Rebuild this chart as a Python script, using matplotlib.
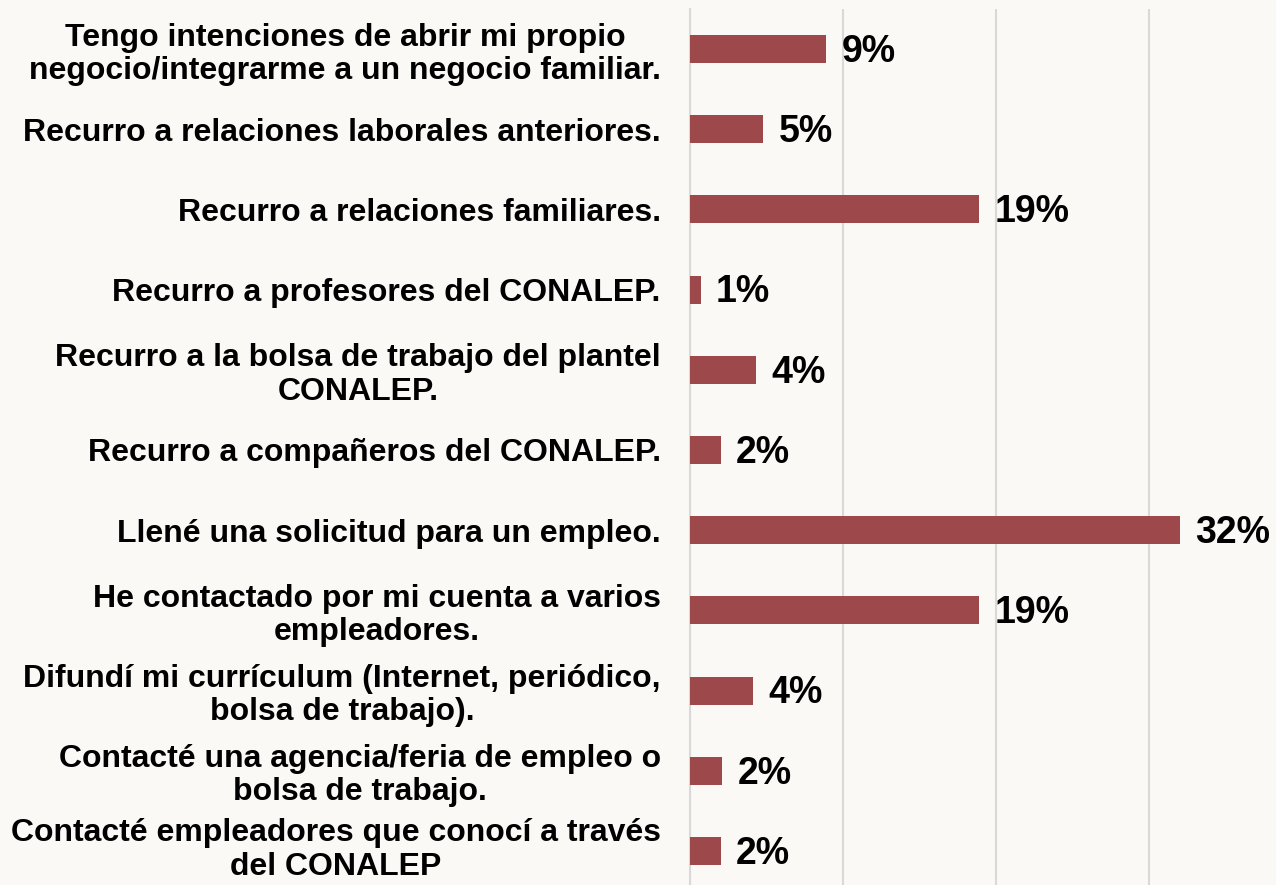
import numpy as np
import matplotlib
matplotlib.use('Agg')
import matplotlib.pyplot as plt
import matplotlib.transforms as mtransforms

plt.rcParams['font.family'] = ['Liberation Sans', 'DejaVu Sans']

categorias = [
    'Tengo intenciones de abrir mi propio\nnegocio/integrarme a un negocio familiar.',
    'Recurro a relaciones laborales anteriores.',
    'Recurro a relaciones familiares.',
    'Recurro a profesores del CONALEP.',
    'Recurro a la bolsa de trabajo del plantel\nCONALEP.',
    'Recurro a compañeros del CONALEP.',
    'Llené una solicitud para un empleo.',
    'He contactado por mi cuenta a varios\nempleadores.',
    'Difundí mi currículum (Internet, periódico,\nbolsa de trabajo).',
    'Contacté una agencia/feria de empleo o\nbolsa de trabajo.',
    'Contacté empleadores que conocí a través\ndel CONALEP',
]
valores = [8.9, 4.8, 18.9, 0.7, 4.3, 2.0, 32.0, 18.9, 4.1, 2.1, 2.0]
etiquetas = ['9%', '5%', '19%', '1%', '4%', '2%', '32%', '19%', '4%', '2%', '2%']

fondo = '#FAF9F5'
fig = plt.figure(figsize=(12.76, 8.85), dpi=100, facecolor=fondo)
ax = fig.add_axes([690 / 1276, -6 / 885, 612 / 1276, 882 / 885])
ax.set_facecolor(fondo)

y = np.arange(len(categorias))
ax.barh(y, valores, height=0.35, color='#9D484B', zorder=3)

# etiquetas de porcentaje al final de cada barra
for yi, v, t in zip(y, valores, etiquetas):
    ax.annotate(t, xy=(v, yi), xytext=(11, -2), textcoords='offset points',
                ha='left', va='center', fontsize=27, fontweight='bold',
                color='black')

ax.set_xlim(0, 40)
ax.set_ylim(len(categorias) - 0.5, -0.5)
ax.set_xticks([0, 10, 20, 30])
ax.set_xticklabels([])
ax.xaxis.grid(True, color='#D9D9D9', linewidth=1.5, zorder=0)
ax.tick_params(axis='x', length=0)

ax.set_yticks(y)
ax.set_yticklabels(categorias, fontsize=23, fontweight='bold',
                   multialignment='center', linespacing=1.14)
ax.tick_params(axis='y', length=0, pad=21)

# subir un poco la ultima etiqueta para que no se corte
ultima = ax.get_yticklabels()[-1]
ultima.set_transform(ultima.get_transform() +
                     mtransforms.ScaledTranslation(0, 6 / 100, fig.dpi_scale_trans))

for s in ['top', 'right', 'bottom']:
    ax.spines[s].set_visible(False)
ax.spines['left'].set_color('#D9D9D9')
ax.spines['left'].set_linewidth(1.5)

plt.savefig('out.png', dpi=100, facecolor=fondo)
plt.close()
